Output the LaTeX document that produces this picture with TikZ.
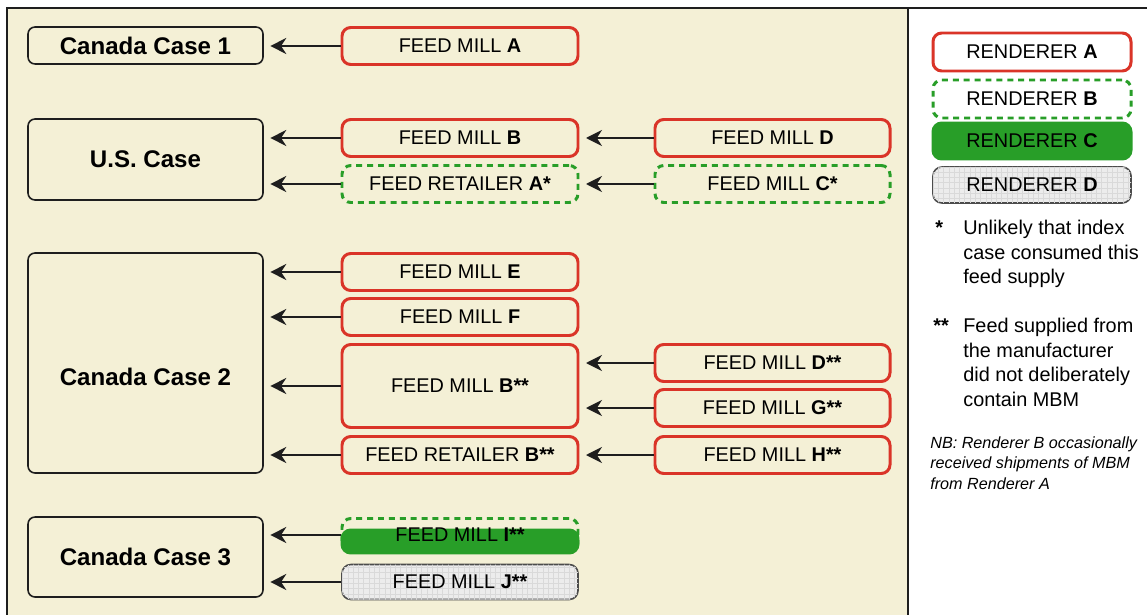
\documentclass[tikz,border=0pt]{standalone}
\usepackage{fontspec}
\setmainfont{Liberation Sans}
\usetikzlibrary{arrows.meta,patterns}
\definecolor{cream}{RGB}{244,240,214}
\definecolor{brick}{RGB}{218,52,40}
\definecolor{leaf}{RGB}{40,158,40}
\definecolor{ink}{RGB}{30,30,30}
\tikzset{
  >={Stealth[length=3.2mm,width=3.2mm]},
  casebox/.style={draw=ink,fill=cream,rounded corners=4pt,line width=0.9pt,
    minimum width=47mm,font=\fontsize{13.7}{16}\selectfont\bfseries},
  feed/.style={draw=#1,rounded corners=5pt,line width=1.7pt,minimum width=47.2mm,
    minimum height=7.4mm,font=\fontsize{11.3}{13.9}\selectfont},
  feed/.default=brick,
  dashfeed/.style={feed=leaf,dash pattern=on 3.4pt off 2.8pt},
  solidfeed/.style={feed=leaf,fill=leaf},
  greyfeed/.style={feed=ink!80,line width=0.9pt,fill=gray!15,
    postaction={pattern=grid,pattern color=gray!30}},
  link/.style={->,line width=1.1pt,draw=ink,shorten >=1.3mm},
  note/.style={anchor=north west,inner sep=0pt,align=left,
    font=\fontsize{11.3}{13.9}\selectfont},
}
\begin{document}
\begin{tikzpicture}
\useasboundingbox (0,0) rectangle (22.94,-12.3);
% panels
\fill[white] (0,0) rectangle (22.94,-12.3);
\fill[cream] (0.16,-0.16) rectangle (18.16,-12.3);
\draw[ink,line width=1.3pt] (0.14,-12.3) -- (0.14,-0.16) -- (22.94,-0.16);
\draw[ink,line width=1.6pt] (18.16,-0.16) -- (18.16,-12.3);

% index cases
\node[casebox,minimum height=7.4mm] (case1) at (2.91,-0.91) {Canada Case 1};
\node[casebox,minimum height=16.2mm] (us) at (2.91,-3.19) {U.S. Case};
\node[casebox,minimum height=44mm,text height=9mm] (case2) at (2.91,-7.26) {Canada Case 2};
\node[casebox,minimum height=16mm] (case3) at (2.91,-11.14) {Canada Case 3};

% direct suppliers
\node[feed] (millA) at (9.2,-0.92) {FEED MILL \textbf{A}};
\node[feed] (millB) at (9.2,-2.76) {FEED MILL \textbf{B}};
\node[dashfeed] (retA) at (9.2,-3.68) {FEED RETAILER \textbf{A*}};
\node[feed] (millE) at (9.2,-5.44) {FEED MILL \textbf{E}};
\node[feed] (millF) at (9.2,-6.34) {FEED MILL \textbf{F}};
\node[feed,minimum height=16.6mm] (millB2) at (9.2,-7.72) {FEED MILL \textbf{B**}};
\node[feed] (retB) at (9.2,-9.1) {FEED RETAILER \textbf{B**}};
\node[solidfeed,minimum height=4.6mm] (millIbase) at (9.2,-10.83) {};
\node[dashfeed,minimum height=6.6mm] (millI) at (9.2,-10.7) {FEED MILL \textbf{I**}};
\node[greyfeed,minimum height=7mm] (millJ) at (9.2,-11.64) {FEED MILL \textbf{J**}};

% second-level suppliers
\node[feed,minimum width=47mm] (millD) at (15.45,-2.76) {FEED MILL \textbf{D}};
\node[dashfeed,minimum width=47mm] (millC) at (15.45,-3.68) {FEED MILL \textbf{C*}};
\node[feed,minimum width=47mm] (millD2) at (15.45,-7.26) {FEED MILL \textbf{D**}};
\node[feed,minimum width=47mm] (millG) at (15.45,-8.16) {FEED MILL \textbf{G**}};
\node[feed,minimum width=47mm] (millH) at (15.45,-9.1) {FEED MILL \textbf{H**}};

\foreach \src/\dst in {millA/case1,millB/us,retA/us,millE/case2,millF/case2,
    millB2/case2,retB/case2,millI/case3,millJ/case3,millD/millB,millC/retA,
    millD2/millB2,millG/millB2,millH/retB}
  \draw[link] (\src.west) -- (\src.west -| \dst.east);

% legend
\node[feed,fill=white,minimum width=39.6mm,minimum height=7.6mm] (rendA) at (20.64,-1.04) {RENDERER \textbf{A}};
\node[dashfeed,fill=white,minimum width=39.6mm,minimum height=7.6mm] (rendB) at (20.64,-1.98) {RENDERER \textbf{B}};
\node[solidfeed,minimum width=39.6mm,minimum height=7.2mm] (rendC) at (20.64,-2.82) {RENDERER \textbf{C}};
\node[greyfeed,minimum width=39.6mm,minimum height=7.2mm] (rendD) at (20.64,-3.7) {RENDERER \textbf{D}};

\node[note] (star1) at (18.7,-4.4) {\textbf{*}};
\node[note] (note1) at (19.26,-4.4) {Unlikely that index\\case consumed this\\feed supply};
\node[note] (star2) at (18.66,-6.36) {\textbf{**}};
\node[note] (note2) at (19.26,-6.36) {Feed supplied from\\the manufacturer\\did not deliberately\\contain MBM};
\node[note,font=\fontsize{9.2}{11.9}\selectfont\itshape] (nb) at (18.6,-8.72)
  {NB: Renderer B occasionally\\received shipments of MBM\\from Renderer A};
\end{tikzpicture}
\end{document}
